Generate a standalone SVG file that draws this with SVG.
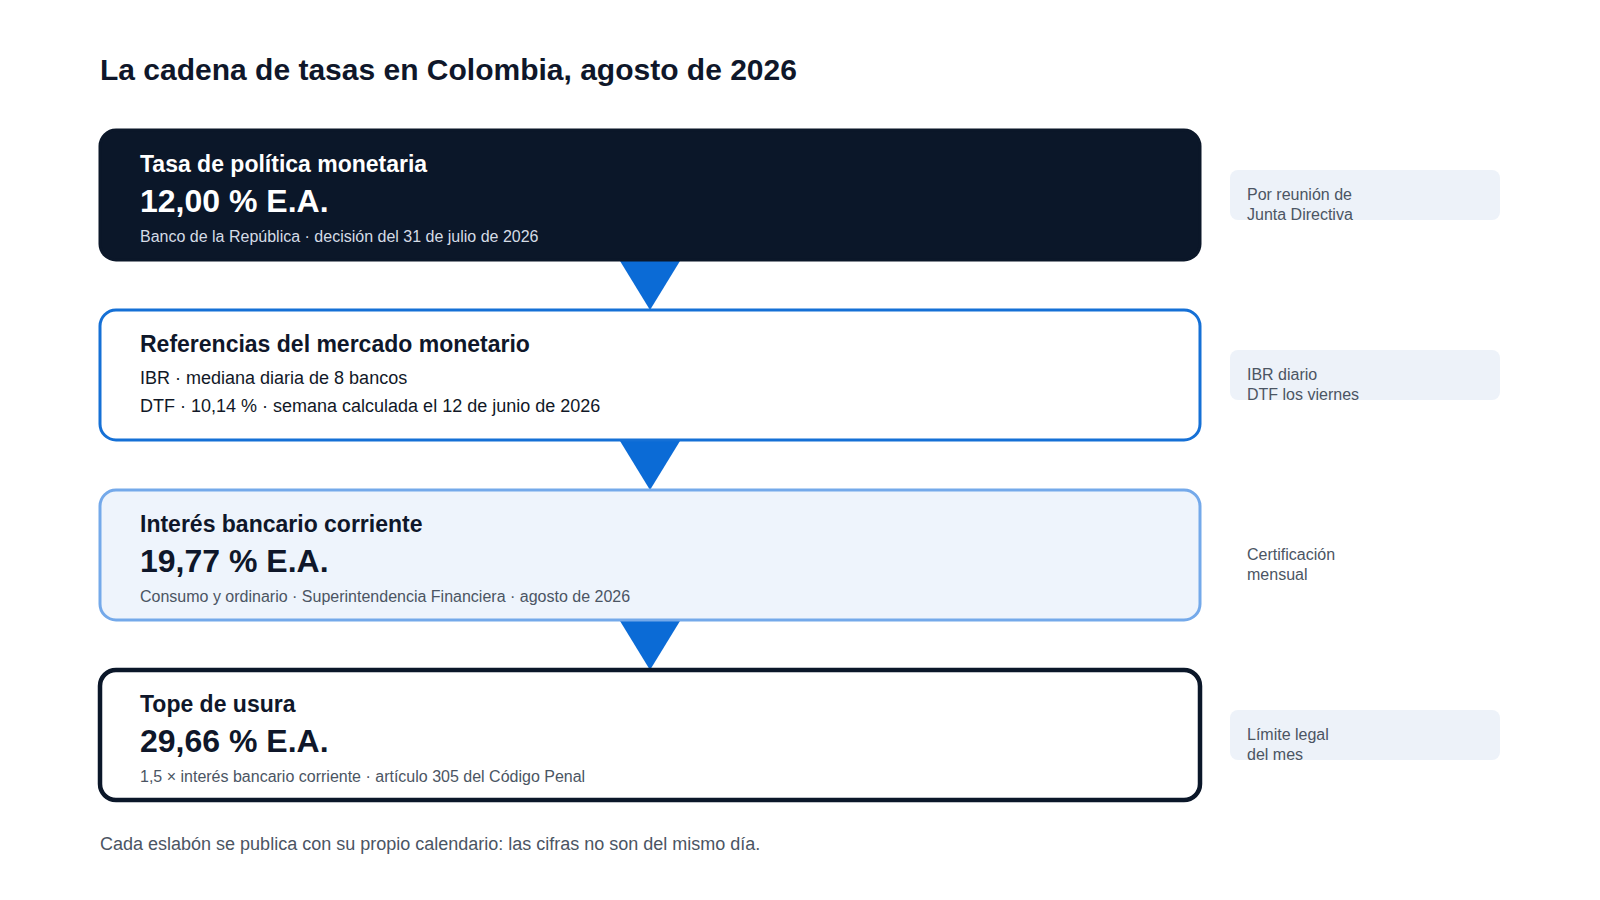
<svg xmlns="http://www.w3.org/2000/svg" width="1600" height="900" viewBox="0 0 1600 900">
  <defs>
    <style>
      text { font-family: "Liberation Sans", Arial, sans-serif; }
      .title { font-size: 30px; font-weight: bold; fill: #0f172a; }
      .ntitle { font-size: 23px; font-weight: bold; fill: #0f172a; }
      .nvalue { font-size: 32px; font-weight: bold; fill: #0f172a; }
      .nsub { font-size: 16px; fill: #4b5563; }
      .nline { font-size: 18px; fill: #111827; }
      .side { font-size: 16px; fill: #4b5563; }
      .sidebg { fill: #edf2f9; }
      .foot { font-size: 18px; fill: #4b5563; }
      .arrow { fill: #0b6bd6; }
    </style>
    <clipPath id="c1"><rect x="1230" y="170" width="270" height="50" rx="8"/></clipPath>
    <clipPath id="c2"><rect x="1230" y="350" width="270" height="50" rx="8"/></clipPath>
    <clipPath id="c4"><rect x="1230" y="710" width="270" height="50" rx="8"/></clipPath>
  </defs>
  <rect width="1600" height="900" fill="#ffffff"/>

  <text class="title" x="100" y="80">La cadena de tasas en Colombia, agosto de 2026</text>

  <g id="connectors">
    <polygon class="arrow" points="620,261 680,261 650,310"/>
    <polygon class="arrow" points="620,441 680,441 650,490"/>
    <polygon class="arrow" points="620,621 680,621 650,670"/>
  </g>

  <g id="node-tpm">
    <rect x="100" y="130" width="1100" height="130" rx="16" fill="#0b1729" stroke="#0b1729" stroke-width="3"/>
    <text class="ntitle" x="140" y="172" style="fill:#ffffff">Tasa de política monetaria</text>
    <text class="nvalue" x="140" y="212" style="fill:#ffffff">12,00 % E.A.</text>
    <text class="nsub" x="140" y="242" style="fill:#d5dce6">Banco de la República · decisión del 31 de julio de 2026</text>
  </g>

  <g id="node-ref">
    <rect x="100" y="310" width="1100" height="130" rx="16" fill="#ffffff" stroke="#1570d6" stroke-width="3"/>
    <text class="ntitle" x="140" y="352">Referencias del mercado monetario</text>
    <text class="nline" x="140" y="384">IBR · mediana diaria de 8 bancos</text>
    <text class="nline" x="140" y="412">DTF · 10,14 % · semana calculada el 12 de junio de 2026</text>
  </g>

  <g id="node-ibc">
    <rect x="100" y="490" width="1100" height="130" rx="16" fill="#eef4fc" stroke="#74a9ea" stroke-width="3"/>
    <text class="ntitle" x="140" y="532">Interés bancario corriente</text>
    <text class="nvalue" x="140" y="572">19,77 % E.A.</text>
    <text class="nsub" x="140" y="602">Consumo y ordinario · Superintendencia Financiera · agosto de 2026</text>
  </g>

  <g id="node-usura">
    <rect x="100" y="670" width="1100" height="130" rx="16" fill="#ffffff" stroke="#0b1729" stroke-width="4.5"/>
    <text class="ntitle" x="140" y="712">Tope de usura</text>
    <text class="nvalue" x="140" y="752">29,66 % E.A.</text>
    <text class="nsub" x="140" y="782">1,5 × interés bancario corriente · artículo 305 del Código Penal</text>
  </g>

  <g id="side-tpm">
    <rect class="sidebg" x="1230" y="170" width="270" height="50" rx="8"/>
    <g clip-path="url(#c1)">
      <text class="side" x="1247" y="200">Por reunión de</text>
      <text class="side" x="1247" y="220">Junta Directiva</text>
    </g>
  </g>

  <g id="side-ref">
    <rect class="sidebg" x="1230" y="350" width="270" height="50" rx="8"/>
    <g clip-path="url(#c2)">
      <text class="side" x="1247" y="380">IBR diario</text>
      <text class="side" x="1247" y="400">DTF los viernes</text>
    </g>
  </g>

  <g id="side-ibc">
    <text class="side" x="1247" y="560">Certificación</text>
    <text class="side" x="1247" y="580">mensual</text>
  </g>

  <g id="side-usura">
    <rect class="sidebg" x="1230" y="710" width="270" height="50" rx="8"/>
    <g clip-path="url(#c4)">
      <text class="side" x="1247" y="740">Límite legal</text>
      <text class="side" x="1247" y="760">del mes</text>
    </g>
  </g>

  <text class="foot" x="100" y="850">Cada eslabón se publica con su propio calendario: las cifras no son del mismo día.</text>
</svg>
